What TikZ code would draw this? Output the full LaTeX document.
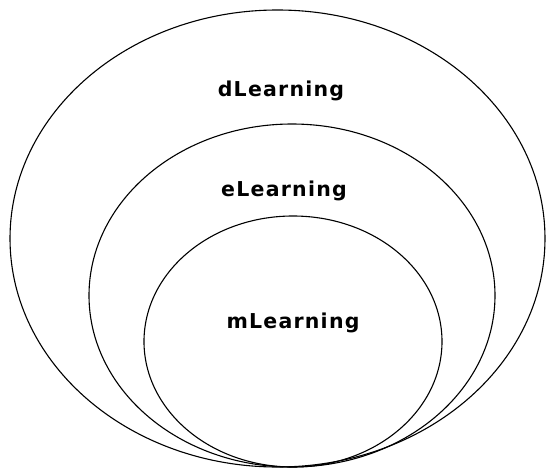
\documentclass[tikz,border=0pt]{standalone}
\usepackage{fontspec}
\newfontfamily\lblfont[LetterSpace=6]{DejaVu Sans Bold}
\begin{document}
\begin{tikzpicture}[x=1pt,y=-1pt,
  ring/.style={draw=black,line width=1.1pt},
  lbl/.style={font=\lblfont\fontsize{20.5}{22}\selectfont,anchor=base,inner sep=0pt}]
\useasboundingbox[fill=white] (0,0) rectangle (547,469);
\draw[ring] (277.5,238.5) ellipse [x radius=267.5, y radius=228.5];
\draw[ring] (292,295.5) ellipse [x radius=203, y radius=171.5];
\draw[ring] (293,341.5) ellipse [x radius=149, y radius=125.5];
\node[lbl] (d) at (281,96) {dLearning};
\node[lbl] (e) at (284,196) {eLearning};
\node[lbl] (m) at (293,328) {mLearning};
\end{tikzpicture}
\end{document}
